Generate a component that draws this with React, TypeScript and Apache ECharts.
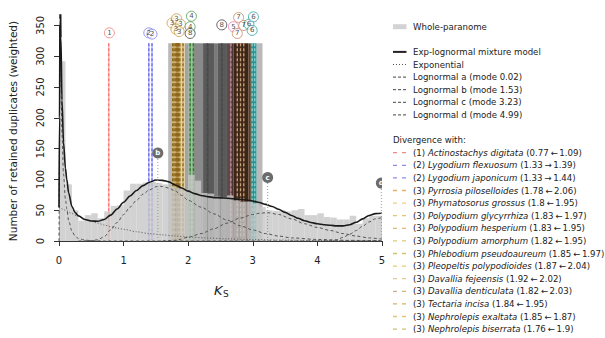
import React, { useEffect, useRef } from "react";
import * as echarts from "echarts";

const FONT = '"DejaVu Sans", sans-serif';
const LEGEND_FONT_SIZE = 8.6;

// Whole-paranome KS distribution, weighted duplicate counts in 0.1-wide bins from 0
const binWidth = 0.1;
const binCounts = [
  292, 92, 50, 33, 42, 45, 37, 48, 57, 58,
  82, 93, 93, 95, 96, 94, 92, 88, 86, 84,
  108, 98, 78, 77, 72, 71, 74, 66, 64, 64,
  61, 55, 50, 49, 50, 48, 50, 52, 42, 42,
  45, 39, 38, 35, 35, 41, 28, 37, 41, 41,
];

// Exp-lognormal mixture model, [KS, weighted count]
const mixtureCurve = [
  [0, 55], [0.008, 200], [0.015, 360], [0.022, 400], [0.03, 330], [0.046, 229],
  [0.07, 160], [0.1, 118], [0.12, 100], [0.15, 78], [0.2, 56], [0.25, 46],
  [0.3, 41], [0.4, 35], [0.5, 32.5], [0.6, 32], [0.7, 35], [0.8, 42], [0.9, 52],
  [1.0, 63], [1.1, 73], [1.2, 82], [1.3, 90], [1.4, 95.5], [1.5, 99], [1.6, 98.5],
  [1.7, 96], [1.8, 91], [1.9, 86], [2.0, 81], [2.1, 77], [2.2, 74], [2.3, 72],
  [2.4, 70.5], [2.5, 70], [2.6, 69.5], [2.7, 68.5], [2.8, 67.5], [2.9, 66.5],
  [3.0, 65], [3.1, 62.5], [3.2, 59.5], [3.3, 56], [3.4, 51.5], [3.5, 46.5],
  [3.6, 41.5], [3.7, 37], [3.8, 33], [3.9, 30], [4.0, 28], [4.1, 26.5],
  [4.2, 25.5], [4.3, 24.5], [4.4, 24.5], [4.5, 26.5], [4.6, 30.5], [4.7, 36],
  [4.8, 41.5], [4.9, 44.5], [5.0, 45],
];

const exponentialCurve = [
  [0, 55], [0.1, 50], [0.2, 44.5], [0.3, 40], [0.4, 35.5], [0.5, 32], [0.6, 29],
  [0.7, 26], [0.8, 23], [0.9, 21], [1.0, 19], [1.2, 15], [1.4, 12], [1.6, 10],
  [1.8, 8], [2.0, 6.5], [2.3, 4.8], [2.6, 3.5], [3.0, 2.3], [3.5, 1.4], [4.0, 0.8],
  [4.5, 0.5], [5.0, 0.3],
];

const lognormalA = [
  [0, 0], [0.008, 145], [0.015, 305], [0.022, 345], [0.03, 275], [0.046, 175],
  [0.07, 108], [0.1, 68], [0.12, 52], [0.15, 33], [0.2, 16], [0.25, 8], [0.3, 4],
  [0.4, 1.5], [0.5, 0.5], [0.7, 0], [5.0, 0],
];

const lognormalB = [
  [0.3, 0], [0.4, 0.2], [0.5, 0.6], [0.6, 2], [0.7, 7], [0.8, 18], [0.9, 30],
  [1.0, 43], [1.1, 55], [1.2, 66], [1.3, 76], [1.4, 83], [1.5, 88], [1.55, 89],
  [1.6, 88.5], [1.7, 86], [1.8, 81], [1.9, 74], [2.0, 66], [2.2, 55], [2.4, 44],
  [2.6, 34], [2.8, 25], [3.0, 18], [3.2, 12], [3.4, 8], [3.6, 5], [4.0, 2.5],
  [4.5, 1], [5.0, 0.5],
];

const lognormalC = [
  [1.6, 0], [1.8, 1], [2.0, 6], [2.2, 12], [2.4, 20], [2.6, 29], [2.8, 37],
  [3.0, 43], [3.1, 45], [3.23, 46], [3.4, 43], [3.6, 36], [3.8, 28], [4.0, 22],
  [4.2, 17], [4.4, 12], [4.6, 8], [4.8, 5], [5.0, 3],
];

const lognormalD = [
  [4.1, 0], [4.2, 0.5], [4.3, 2], [4.4, 6], [4.5, 11], [4.6, 17], [4.7, 24],
  [4.8, 31], [4.9, 36], [5.0, 38],
];

const componentLetters = ["a", "b", "c", "d"];
const componentModes = ["0.02", "1.53", "3.23", "4.99"];
const componentCurves = [lognormalA, lognormalB, lognormalC, lognormalD];

// Mode markers of the lognormal components shown in the plot
const markerLetters = ["b", "c", "d"];
const markerKs = [1.53, 3.23, 4.99];
const markerHeight = [143, 103, 94];

// Ortholog divergences (rate-adjusted), listed in the legend
const divGroup = [1, 2, 2, 3, 3, 3, 3, 3, 3, 3, 3, 3, 3, 3, 3];
const divSpecies = [
  "Actinostachys digitata", "Lygodium flexuosum", "Lygodium japonicum",
  "Pyrrosia piloselloides", "Phymatosorus grossus", "Polypodium glycyrrhiza",
  "Polypodium hesperium", "Polypodium amorphum", "Phlebodium pseudoaureum",
  "Pleopeltis polypodioides", "Davallia fejeensis", "Davallia denticulata",
  "Tectaria incisa", "Nephrolepis exaltata", "Nephrolepis biserrata",
];
const divLeft = [0.77, 1.33, 1.33, 1.78, 1.8, 1.83, 1.83, 1.82, 1.85, 1.87, 1.92, 1.82, 1.84, 1.85, 1.76];
const divRight = [1.09, 1.39, 1.44, 2.06, 1.95, 1.97, 1.95, 1.95, 1.97, 2.04, 2.02, 2.03, 1.95, 1.87, 1.9];
const divArrow = ["←", "→", "→", "←", "←", "←", "←", "←", "←", "←", "←", "←", "←", "←", "←"];

// Further divergences (groups 4–8)
const otherGroup = [4, 4, 8, 8, 5, 7, 7, 7, 6, 6];
const otherKs = [2.03, 2.08, 2.3, 2.52, 2.66, 2.76, 2.81, 2.86, 2.99, 3.03];

// Shaded uncertainty ranges behind the divergence lines
const shadeFrom = [1.69, 1.75, 1.95, 2.01, 2.09, 2.23, 2.4, 2.46, 2.6, 2.65, 2.7, 2.93, 2.97, 3.06];
const shadeTo = [1.75, 1.95, 2.01, 2.09, 2.23, 2.4, 2.46, 2.6, 2.65, 2.7, 2.93, 2.97, 3.06, 3.15];
const shadeTone = ["edge", "gold", "grey", "green", "mid", "dark", "grey2", "dark", "mauve", "pink", "brown", "brown2", "teal", "edge"];

// Numbered tags above the divergence lines
const tagGroup = [1, 2, 2, 3, 3, 3, 3, 3, 4, 4, 8, 8, 5, 7, 7, 7, 6, 6, 6];
const tagKs = [0.78, 1.39, 1.44, 1.75, 1.82, 1.88, 1.81, 1.86, 2.05, 2.03, 2.03, 2.52, 2.7, 2.78, 2.86, 2.76, 2.94, 3.01, 2.99];
const tagHeight = [338, 338, 336, 354, 361, 352, 344, 340, 365, 348, 337, 351, 348, 363, 350, 337, 352, 364, 342];

// ---- styles ----
const toneColor: Record<string, string> = {
  edge: "#bababa",
  gold: "#e4d3a4",
  grey: "#a3a3a3",
  green: "#9cc29c",
  mid: "#8a8a8a",
  dark: "#5a5a5a",
  grey2: "#7a7a7a",
  mauve: "#5b4c47",
  pink: "#4a3535",
  brown: "#3a2517",
  brown2: "#5c3e28",
  teal: "#2f8f8f",
};

const groupColor: Record<number, string> = {
  1: "#f27a7a", 2: "#7a7ae8", 3: "#c79a3e", 4: "#4d9e4d",
  5: "#ee7fb8", 6: "#2aa3a3", 7: "#c48a64", 8: "#3d3d3d",
};

const groupLine: Record<number, { base: string; dash: string }> = {
  1: { base: "rgba(255,130,130,0.55)", dash: "rgba(250,100,100,0.85)" },
  2: { base: "rgba(130,130,255,0.55)", dash: "rgba(90,90,230,0.85)" },
  3: { base: "rgba(170,130,50,0.35)", dash: "#8c6619" },
  4: { base: "rgba(70,150,70,0.45)", dash: "#2c7a2c" },
  5: { base: "rgba(190,120,150,0.4)", dash: "#c98aa2" },
  6: { base: "rgba(40,160,160,0.5)", dash: "#8fd3cf" },
  7: { base: "rgba(150,100,60,0.3)", dash: "#c9a07e" },
  8: { base: "rgba(60,60,60,0.3)", dash: "#484848" },
};

const legendDash = [
  "#f08a8a", "#8c8cee", "#8c8cee",
  "#e8ae6e", "#e9cc88", "#e4c478", "#ddb870", "#e0c878", "#cfc56e",
  "#e2cf72", "#dccb98", "#c9b487", "#cdb566", "#e5c27a", "#c9c27a",
];

const LINE_TOP = 321;
const Y_MAX = 367;

function buildOption() {
  const histogram = binCounts.map((c, i) => [i * binWidth, (i + 1) * binWidth, c]);
  const divLines = [
    ...divGroup.map((g, i) => [divArrow[i] === "←" ? divLeft[i] : divRight[i], g]),
    ...otherGroup.map((g, i) => [otherKs[i], g]),
  ];

  const rowY = (k: number) => 26.7 + 12.6 * k;
  const legendText = (text: string, k: number, x = 413) => ({
    type: "text",
    x,
    y: rowY(k),
    style: {
      text,
      fill: "#222",
      fontSize: LEGEND_FONT_SIZE,
      fontFamily: FONT,
      verticalAlign: "middle",
      align: "left",
    },
  });
  const legendLine = (k: number, stroke: string, width: number, dash?: number[]) => ({
    type: "line",
    shape: { x1: 393, y1: rowY(k), x2: 406.5, y2: rowY(k) },
    style: { stroke, lineWidth: width, lineDash: dash },
  });

  const graphic: any[] = [
    { type: "rect", shape: { x: 393, y: rowY(0) - 2.5, width: 13.5, height: 5 }, style: { fill: "#d3d3d3" } },
    legendText("Whole-paranome", 0),
    legendLine(2, "#222", 2),
    legendText("Exp-lognormal mixture model", 2),
    legendLine(3, "#555", 1, [1, 2]),
    legendText("Exponential", 3),
  ];
  componentLetters.forEach((l, i) => {
    graphic.push(legendLine(4 + i, "#444", 1, [3, 2]));
    graphic.push(legendText(`Lognormal ${l} (mode ${componentModes[i]})`, 4 + i));
  });
  graphic.push(legendText("Divergence with:", 9, 393));
  divSpecies.forEach((name, i) => {
    const k = 10 + i;
    graphic.push(legendLine(k, legendDash[i], 1.3, [4, 5]));
    graphic.push({
      type: "text",
      x: 413,
      y: rowY(k),
      style: {
        text: `{n|(${divGroup[i]}) }{i|${name}}{n| (${divLeft[i]}\u2009${divArrow[i]}\u2009${divRight[i]})}`,
        verticalAlign: "middle",
        align: "left",
        rich: {
          n: { fontSize: LEGEND_FONT_SIZE, fontFamily: FONT, fill: "#222" },
          i: { fontSize: LEGEND_FONT_SIZE, fontFamily: FONT, fill: "#222", fontStyle: "italic" },
        },
      },
    });
  });

  // axis titles
  graphic.push({
    type: "text",
    x: 13,
    y: 131,
    rotation: Math.PI / 2,
    style: {
      text: "Number of retained duplicates (weighted)",
      fill: "#222",
      fontSize: 10.5,
      fontFamily: FONT,
      align: "center",
      verticalAlign: "middle",
    },
  });
  graphic.push({
    type: "text",
    x: 214,
    y: 290,
    style: { text: "K", fill: "#222", fontSize: 13, fontStyle: "italic", fontFamily: FONT, align: "left", verticalAlign: "middle" },
  });
  graphic.push({
    type: "text",
    x: 223,
    y: 294,
    style: { text: "S", fill: "#222", fontSize: 9, fontFamily: FONT, align: "left", verticalAlign: "middle" },
  });

  const curve = (data: number[][], z: number, lineStyle: any) => ({
    type: "line",
    xAxisIndex: 0,
    yAxisIndex: 0,
    data,
    smooth: 0.3,
    smoothMonotone: "x",
    showSymbol: false,
    symbol: "none",
    clip: true,
    z,
    lineStyle,
    silent: true,
  });

  return {
    animation: false,
    textStyle: { fontFamily: FONT },
    grid: [
      { left: 59, right: 223, top: 15, bottom: 97 },
      { left: 59, right: 223, top: 25.4, bottom: 97 },
    ],
    xAxis: [
      {
        gridIndex: 0,
        type: "value",
        min: 0,
        max: 5,
        interval: 1,
        offset: 6,
        axisLine: { show: true, lineStyle: { color: "#333", width: 1 } },
        axisTick: { show: true, length: 5, lineStyle: { color: "#333" } },
        axisLabel: { fontSize: 10, color: "#222", margin: 8, fontFamily: FONT },
        splitLine: { show: false },
      },
      { gridIndex: 1, type: "value", min: 0, max: 5, show: false },
    ],
    yAxis: [
      { gridIndex: 0, type: "value", min: 0, max: Y_MAX, show: false },
      {
        gridIndex: 1,
        type: "value",
        min: 0,
        max: 350,
        interval: 50,
        offset: 6,
        axisLine: { show: true, lineStyle: { color: "#333", width: 1 } },
        axisTick: { show: true, length: 5, lineStyle: { color: "#333" } },
        axisLabel: { fontSize: 10, color: "#222", margin: 8, rotate: 90, fontFamily: FONT },
        splitLine: { show: false },
      },
    ],
    series: [
      {
        type: "custom",
        name: "shade",
        xAxisIndex: 0,
        yAxisIndex: 0,
        z: 1,
        silent: true,
        data: shadeFrom.map((lo, i) => [lo, shadeTo[i]]),
        renderItem: (params: any, api: any) => {
          const i = params.dataIndex;
          const p0 = api.coord([api.value(0), LINE_TOP]);
          const p1 = api.coord([api.value(1), 0]);
          return {
            type: "rect",
            shape: { x: p0[0], y: p0[1], width: p1[0] - p0[0], height: p1[1] - p0[1] },
            style: { fill: toneColor[shadeTone[i]] },
          };
        },
      },
      {
        type: "custom",
        name: "divergence",
        xAxisIndex: 0,
        yAxisIndex: 0,
        z: 2,
        silent: true,
        data: divLines,
        renderItem: (params: any, api: any) => {
          const g = divLines[params.dataIndex][1] as number;
          const top = api.coord([api.value(0), LINE_TOP]);
          const bot = api.coord([api.value(0), 0]);
          const st = groupLine[g];
          return {
            type: "group",
            children: [
              { type: "line", shape: { x1: top[0], y1: top[1], x2: bot[0], y2: bot[1] }, style: { stroke: st.base, lineWidth: 1.6 } },
              { type: "line", shape: { x1: top[0], y1: top[1], x2: bot[0], y2: bot[1] }, style: { stroke: st.dash, lineWidth: 1.3, lineDash: [3, 2] } },
            ],
          };
        },
      },
      {
        type: "custom",
        name: "Whole-paranome",
        xAxisIndex: 0,
        yAxisIndex: 0,
        z: 3,
        silent: true,
        data: histogram,
        renderItem: (params: any, api: any) => {
          const p0 = api.coord([api.value(0), api.value(2)]);
          const p1 = api.coord([api.value(1), 0]);
          return {
            type: "rect",
            shape: { x: p0[0], y: p0[1], width: p1[0] - p0[0], height: p1[1] - p0[1] },
            style: { fill: "rgba(200,200,200,0.82)" },
          };
        },
      },
      curve(exponentialCurve, 4, { color: "#555", width: 1, type: [1, 2] }),
      ...componentCurves.map((c) => curve(c, 4, { color: "#555", width: 1, type: [3, 2.5] })),
      curve(mixtureCurve, 5, { color: "#1a1a1a", width: 1.6 }),
      {
        type: "custom",
        name: "modes",
        xAxisIndex: 0,
        yAxisIndex: 0,
        z: 6,
        clip: true,
        silent: true,
        data: markerKs.map((k, i) => [k, markerHeight[i]]),
        renderItem: (params: any, api: any) => {
          const i = params.dataIndex;
          const c = api.coord([api.value(0), api.value(1)]);
          const b = api.coord([api.value(0), 0]);
          return {
            type: "group",
            children: [
              { type: "line", shape: { x1: b[0], y1: b[1], x2: c[0], y2: c[1] }, style: { stroke: "#9a9a9a", lineWidth: 1, lineDash: [1, 2] } },
              { type: "circle", shape: { cx: c[0], cy: c[1], r: 5.5 }, style: { fill: "#6c6c6c" } },
              {
                type: "text",
                x: c[0],
                y: c[1],
                style: { text: markerLetters[i], fill: "#fff", fontSize: 7, fontWeight: "bold", fontFamily: FONT, align: "center", verticalAlign: "middle" },
              },
            ],
          };
        },
      },
      {
        type: "scatter",
        name: "tags",
        xAxisIndex: 0,
        yAxisIndex: 0,
        z: 7,
        clip: false,
        silent: true,
        symbol: "circle",
        symbolSize: 10,
        data: tagKs.map((k, i) => ({
          value: [k, tagHeight[i]],
          itemStyle: { color: "rgba(255,255,255,0.75)", borderColor: groupColor[tagGroup[i]], borderWidth: 1 },
          label: { formatter: String(tagGroup[i]) },
        })),
        label: { show: true, position: "inside", fontSize: 7, color: "#222", fontFamily: FONT },
      },
    ],
    graphic,
  };
}

export default function App() {
  const ref = useRef<HTMLDivElement>(null);
  useEffect(() => {
    const chart = echarts.init(ref.current!, null, { renderer: "svg" });
    chart.setOption(buildOption() as any);
    return () => chart.dispose();
  }, []);
  return (
    <div
      ref={ref}
      style={{ position: "fixed", left: 0, top: 0, width: 605, height: 338, background: "#fff" }}
    />
  );
}
